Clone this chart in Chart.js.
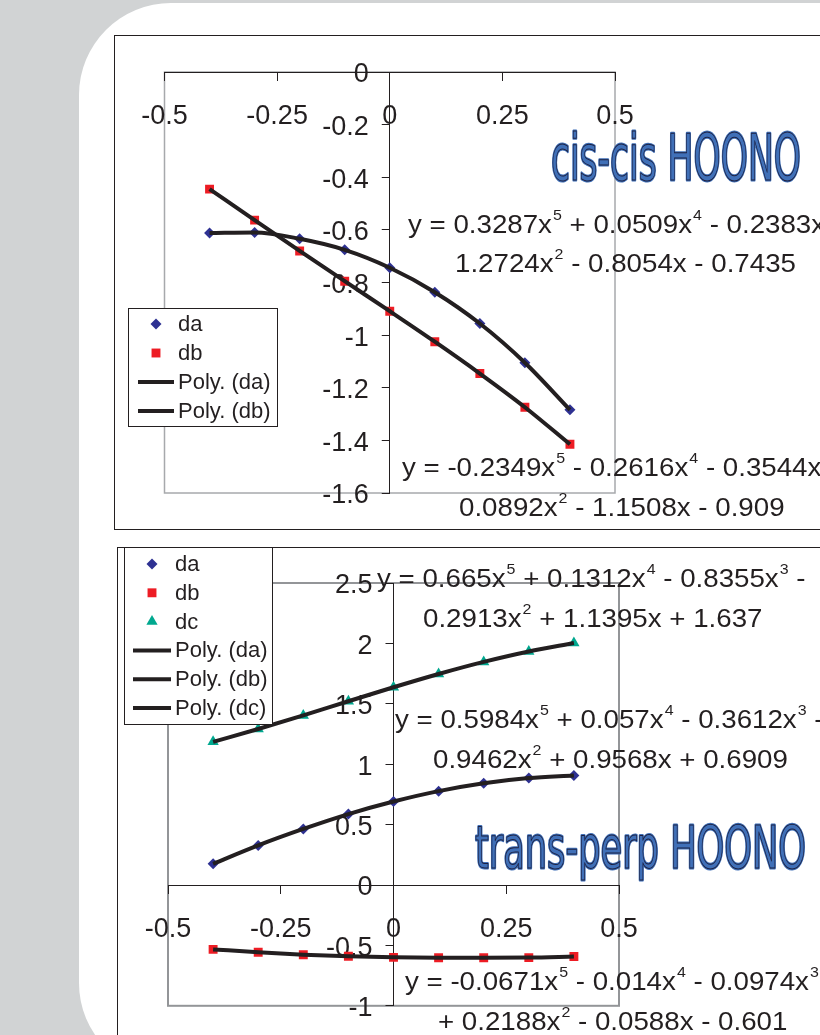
<!DOCTYPE html>
<html>
<head>
<meta charset="utf-8">
<script src="https://cdn.jsdelivr.net/npm/chart.js@4.4.1/dist/chart.umd.min.js"></script>
<style>
html, body { margin: 0; padding: 0; }
body { width: 820px; height: 1035px; overflow: hidden; background: #d1d3d4; position: relative; }
#sheet { position: absolute; left: 79px; top: 3px; width: 1000px; height: 1072px; background: #fff; border-radius: 92px; }
.frame { position: absolute; border: 1px solid #231f20; background: #fff; }
#f1 { left: 114px; top: 35px; width: 760px; height: 493px; }
#f2 { left: 117px; top: 547px; width: 760px; height: 520px; }
canvas { position: absolute; left: 0; top: 0; }
</style>
</head>
<body>
<div id="sheet"></div>
<div class="frame" id="f1"><canvas id="c1" width="705" height="493" style="width:705px;height:493px"></canvas></div>
<div class="frame" id="f2"><canvas id="c2" width="702" height="487" style="width:702px;height:487px"></canvas></div>
<script>
// x positions shared by both panels
var xVals = [-0.4, -0.3, -0.2, -0.1, 0, 0.1, 0.2, 0.3, 0.4];
var xTicks = [-0.5, -0.25, 0, 0.25, 0.5];

// cis-cis HOONO
var cisDa = [-0.612, -0.610, -0.634, -0.676, -0.744, -0.837, -0.956, -1.105, -1.284];
var cisDb = [-0.445, -0.563, -0.680, -0.795, -0.909, -1.025, -1.146, -1.274, -1.415];
var cisYTicks = [0, -0.2, -0.4, -0.6, -0.8, -1, -1.2, -1.4, -1.6];
var cisEqDa = ['y = 0.3287x^5 + 0.0509x^4 - 0.2383x^3 -', '1.2724x^2 - 0.8054x - 0.7435'];
var cisEqDb = ['y = -0.2349x^5 - 0.2616x^4 - 0.3544x^3 -', '0.0892x^2 - 1.1508x - 0.909'];

// trans-perp HOONO
var tpDa = [0.175, 0.328, 0.464, 0.587, 0.691, 0.777, 0.842, 0.885, 0.907];
var tpDb = [-0.533, -0.557, -0.577, -0.590, -0.599, -0.602, -0.602, -0.601, -0.592];
var tpDc = [1.185, 1.291, 1.404, 1.521, 1.637, 1.747, 1.847, 1.933, 2.003];
var tpYTicks = [2.5, 2, 1.5, 1, 0.5, 0, -0.5, -1];
var tpEqDc = ['y = 0.665x^5 + 0.1312x^4 - 0.8355x^3 -', '0.2913x^2 + 1.1395x + 1.637'];
var tpEqDa = ['y = 0.5984x^5 + 0.057x^4 - 0.3612x^3 -', '0.9462x^2 + 0.9568x + 0.6909'];
var tpEqDb = ['y = -0.0671x^5 - 0.014x^4 - 0.0974x^3', '+ 0.2188x^2 - 0.0588x - 0.601'];

var ink = '#231f20';
var fontFam = '"Liberation Sans", Arial, sans-serif';
var colDa = '#2e3192', colDb = '#ed1c24', colDc = '#00a88f';

function pts(ys) {
    return xVals.map(function (x, i) { return {x: x, y: ys[i]}; });
}

function markers(label, ys, color, style, r) {
    return {label: label, data: pts(ys), backgroundColor: color, borderColor: color, borderWidth: 0,
        pointStyle: style, pointRadius: r, showLine: false, order: 2};
}

function trend(label, ys) {
    return {label: label, data: pts(ys), showLine: true, borderColor: ink, borderWidth: 4,
        pointRadius: 0, cubicInterpolationMode: 'monotone', order: 1, isTrend: true};
}

function drawMarker(ctx, style, x, y, r, color) {
    ctx.fillStyle = color;
    ctx.beginPath();
    if (style === 'rectRot') {
        ctx.moveTo(x, y - r); ctx.lineTo(x + r, y); ctx.lineTo(x, y + r); ctx.lineTo(x - r, y);
    } else if (style === 'triangle') {
        ctx.moveTo(x, y - r); ctx.lineTo(x + r * 0.866, y + r * 0.5); ctx.lineTo(x - r * 0.866, y + r * 0.5);
    } else {
        var s = r * Math.SQRT1_2;
        ctx.rect(x - s, y - s, 2 * s, 2 * s);
    }
    ctx.closePath();
    ctx.fill();
}

// trendline equation, "^n" becomes a superscript; text is a bit wide in the original
function drawEq(ctx, str, x, y) {
    var parts = str.split(/\^(\d)/);
    ctx.save();
    ctx.translate(x, y);
    ctx.scale(1.065, 1);
    ctx.fillStyle = ink;
    ctx.textBaseline = 'alphabetic';
    ctx.textAlign = 'left';
    var cx = 0;
    for (var i = 0; i < parts.length; i++) {
        if (i % 2 === 0) {
            ctx.font = '26px ' + fontFam;
            ctx.fillText(parts[i], cx, 0);
            cx += ctx.measureText(parts[i]).width;
        } else {
            ctx.font = '15px ' + fontFam;
            ctx.fillText(parts[i], cx + 1, -13);
            cx += ctx.measureText(parts[i]).width + 1;
        }
    }
    ctx.restore();
}

function drawTitle(ctx, t) {
    ctx.save();
    ctx.font = t.size + 'px "DejaVu Sans Condensed", "DejaVu Sans", sans-serif';
    ctx.textBaseline = 'alphabetic';
    ctx.textAlign = 'left';
    var w = ctx.measureText(t.text).width;
    ctx.translate(t.x, t.y);
    ctx.scale(t.width / w, 1);
    ctx.lineJoin = 'round';
    ctx.strokeStyle = '#4070b8';
    ctx.lineWidth = 3;
    ctx.strokeText(t.text, 0, 0);
    ctx.fillStyle = '#4070b8';
    ctx.fillText(t.text, 0, 0);
    ctx.strokeStyle = '#1c1f3e';
    ctx.lineWidth = 1;
    ctx.strokeText(t.text, 0, 0);
    ctx.restore();
}

// plot-area border, legend box, equations and title
var decor = {
    id: 'decor',
    afterLayout: function (chart) {
        // put the value axis on x = 0, labels and ticks on its left
        var ys = chart.scales.y;
        var px = chart.scales.x.getPixelForValue(0);
        ys.right = px;
        ys.left = px - 110;
        ys.width = 110;
    },
    beforeDraw: function (chart, args, o) {
        var a = chart.chartArea, ctx = chart.ctx;
        ctx.save();
        ctx.strokeStyle = o.frameColor;
        ctx.lineWidth = o.frameWidth;
        ctx.strokeRect(a.left, a.top, a.right - a.left, a.bottom - a.top);
        ctx.restore();
    },
    afterDraw: function (chart, args, o) {
        var ctx = chart.ctx;
        ctx.save();
        o.equations.forEach(function (e) {
            drawEq(ctx, e.lines[0], e.x[0], e.y[0]);
            drawEq(ctx, e.lines[1], e.x[1], e.y[1]);
        });
        drawTitle(ctx, o.title);
        // legend
        var L = o.legend;
        ctx.fillStyle = '#fff';
        ctx.fillRect(L.box[0], L.box[1], L.box[2] - L.box[0], L.box[3] - L.box[1]);
        ctx.strokeStyle = ink;
        ctx.lineWidth = 1;
        ctx.strokeRect(L.box[0] + 0.5, L.box[1] + 0.5, L.box[2] - L.box[0], L.box[3] - L.box[1]);
        chart.data.datasets.forEach(function (ds, i) {
            var y = L.y0 + i * L.step;
            if (ds.isTrend) {
                ctx.strokeStyle = ink;
                ctx.lineWidth = 4;
                ctx.beginPath();
                ctx.moveTo(L.line[0], y);
                ctx.lineTo(L.line[1], y);
                ctx.stroke();
            } else {
                drawMarker(ctx, ds.pointStyle, L.markX, y, ds.pointRadius, ds.backgroundColor);
            }
            ctx.fillStyle = ink;
            ctx.font = '22px ' + fontFam;
            ctx.textBaseline = 'middle';
            ctx.fillText(ds.label, L.textX, y + 1);
        });
        ctx.restore();
    }
};

function scaleOpts(yTicks) {
    var grid = {display: true, drawOnChartArea: false, drawTicks: true, tickLength: 8, color: ink, lineWidth: 1};
    var border = {display: true, color: ink, width: 1};
    var tickFont = {family: fontFam, size: 27};
    return {
        x: {
            type: 'linear', min: xTicks[0], max: xTicks[xTicks.length - 1], position: {y: 0},
            afterBuildTicks: function (s) { s.ticks = xTicks.map(function (v) { return {value: v}; }); },
            afterFit: function (s) { s.height = 0; },
            grid: grid, border: border,
            ticks: {font: tickFont, color: ink, padding: 20, maxRotation: 0, autoSkip: false,
                callback: function (v) { return String(v); }}
        },
        y: {
            type: 'linear', min: Math.min.apply(null, yTicks), max: Math.max.apply(null, yTicks), position: 'left',
            afterBuildTicks: function (s) { s.ticks = yTicks.map(function (v) { return {value: v}; }); },
            afterFit: function (s) { s.width = 0; },
            grid: grid, border: border,
            ticks: {font: tickFont, color: ink, padding: 13, labelOffset: 3, autoSkip: false,
                callback: function (v) { return String(v); }}
        }
    };
}

new Chart(document.getElementById('c1'), {
    type: 'scatter',
    data: {
        datasets: [
            markers('da', cisDa, colDa, 'rectRot', 5.5),
            markers('db', cisDb, colDb, 'rect', 6.3),
            trend('Poly. (da)', cisDa),
            trend('Poly. (db)', cisDb)
        ]
    },
    options: {
        responsive: false,
        animation: false,
        layout: {padding: {left: 49.5, top: 36, right: 205, bottom: 36}},
        scales: scaleOpts(cisYTicks),
        plugins: {
            legend: {display: false},
            tooltip: {enabled: false},
            decor: {
                frameColor: '#a7a9ac', frameWidth: 1.5,
                equations: [
                    {lines: cisEqDa, x: [293, 340], y: [197, 236]},
                    {lines: cisEqDb, x: [287, 344], y: [440, 480]}
                ],
                title: {text: 'cis-cis HOONO', x: 436, y: 144, width: 250, size: 64},
                legend: {box: [13, 272, 162, 390], y0: 288, step: 29, markX: 41, textX: 63, line: [23, 59]}
            }
        }
    },
    plugins: [decor]
});

new Chart(document.getElementById('c2'), {
    type: 'scatter',
    data: {
        datasets: [
            markers('da', tpDa, colDa, 'rectRot', 5.5),
            markers('db', tpDb, colDb, 'rect', 6.3),
            markers('dc', tpDc, colDc, 'triangle', 6.5),
            trend('Poly. (da)', tpDa),
            trend('Poly. (db)', tpDb),
            trend('Poly. (dc)', tpDc)
        ]
    },
    options: {
        responsive: false,
        animation: false,
        layout: {padding: {left: 50, top: 35, right: 201, bottom: 29}},
        scales: scaleOpts(tpYTicks),
        plugins: {
            legend: {display: false},
            tooltip: {enabled: false},
            decor: {
                frameColor: '#939598', frameWidth: 2,
                equations: [
                    {lines: tpEqDc, x: [259, 305], y: [39, 79]},
                    {lines: tpEqDa, x: [277, 315], y: [180, 220]},
                    {lines: tpEqDb, x: [287, 320], y: [442, 482]}
                ],
                title: {text: 'trans-perp HOONO', x: 357, y: 320, width: 331, size: 59},
                legend: {box: [6, -1, 154, 176], y0: 16, step: 28.8, markX: 34, textX: 57, line: [15, 53]}
            }
        }
    },
    plugins: [decor]
});
</script>
</body>
</html>
